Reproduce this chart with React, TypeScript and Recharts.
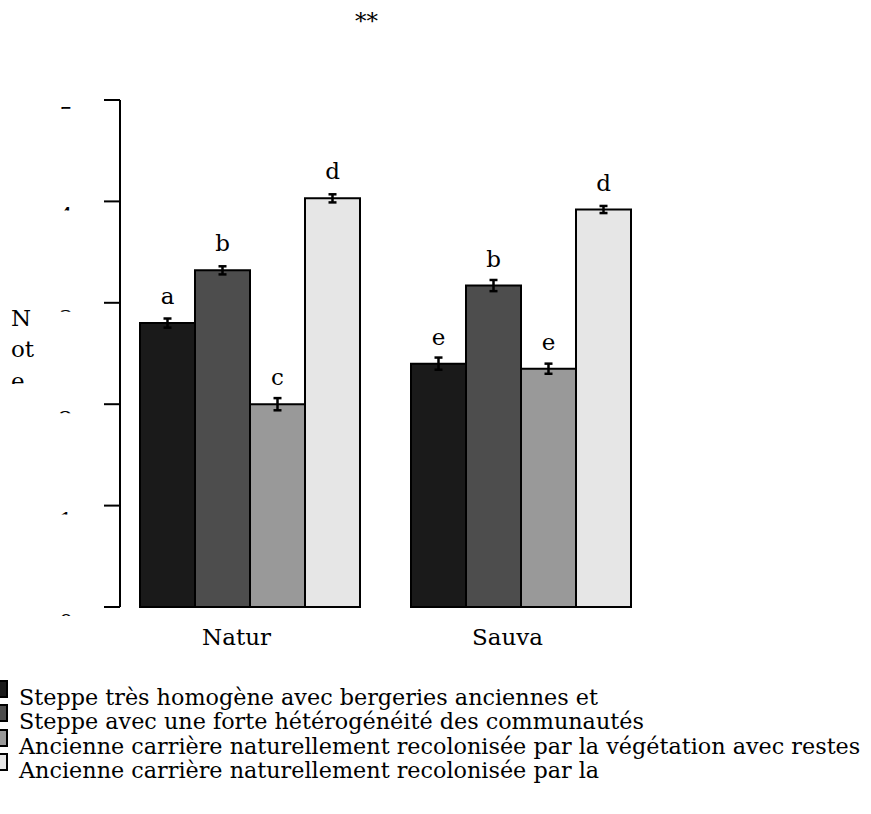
import { BarChart, Bar, XAxis, YAxis, ErrorBar, LabelList } from 'recharts';

const categories = ['Natur', 'Sauva'];

const seriesNames = [
  'Steppe très homogène avec bergeries anciennes et',
  'Steppe avec une forte hétérogénéité des communautés',
  'Ancienne carrière naturellement recolonisée par la végétation avec restes',
  'Ancienne carrière naturellement recolonisée par la',
];
const fills = ['#1a1a1a', '#4d4d4d', '#999999', '#e6e6e6'];

// mean note per site type
const steppeHomogene = [2.8, 2.4];
const steppeHeterogene = [3.32, 3.17];
const carriereRestes = [2.0, 2.35];
const carriere = [4.03, 3.92];

// standard errors
const seHomogene = [0.045, 0.06];
const seHeterogene = [0.04, 0.055];
const seRestes = [0.06, 0.05];
const seCarriere = [0.04, 0.035];

// letters of the post-hoc groups
const lettersHomogene = ['a', 'e'];
const lettersHeterogene = ['b', 'b'];
const lettersRestes = ['c', 'e'];
const lettersCarriere = ['d', 'd'];

const yTicks = [0, 1, 2, 3, 4, 5];

const data = categories.map((cat, i) => ({
  cat,
  s1: steppeHomogene[i],
  s2: steppeHeterogene[i],
  s3: carriereRestes[i],
  s4: carriere[i],
  e1: seHomogene[i],
  e2: seHeterogene[i],
  e3: seRestes[i],
  e4: seCarriere[i],
  l1: lettersHomogene[i],
  l2: lettersHeterogene[i],
  l3: lettersRestes[i],
  l4: lettersCarriere[i],
}));

const FONT = 'DejaVu Serif';

function YTick(props: any) {
  const { x, y, payload, index } = props;
  const id = `ytick-clip-${index}`;
  return (
    <g>
      <clipPath id={id}>
        <rect x={x - 50} y={y + 5} width={30} height={4} />
      </clipPath>
      <text
        x={x - 36}
        y={y + 23}
        textAnchor="middle"
        fontFamily={FONT}
        fontSize={23}
        fill="#000"
        clipPath={`url(#${id})`}
      >
        {payload.value}
      </text>
    </g>
  );
}

function XTick(props: any) {
  const { x, y, payload } = props;
  return (
    <text x={x} y={y + 38} dx={-13} textAnchor="middle" fontFamily={FONT} fontSize={23} fill="#000">
      {payload.value}
    </text>
  );
}

// y title "Note", squeezed in a narrow margin box and cut off at the bottom
function NoteLabel() {
  return (
    <g>
      <clipPath id="note-clip">
        <rect x={0} y={290} width={60} height={94} />
      </clipPath>
      <g clipPath="url(#note-clip)" fontFamily={FONT} fontSize={23} fill="#000">
        <text x={11} y={326}>N</text>
        <text x={11} y={357}>ot</text>
        <text x={11} y={389}>e</text>
      </g>
    </g>
  );
}

const makeLetter = (key: string) => (props: any) => {
  const { x, y, width, index } = props;
  return (
    <text
      x={x + width / 2}
      y={y - 19}
      textAnchor="middle"
      fontFamily={FONT}
      fontSize={23}
      fill="#000"
    >
      {(data[index] as any)[key]}
    </text>
  );
};

export default function App() {
  const keys = ['s1', 's2', 's3', 's4'];
  return (
    <div style={{ position: 'absolute', left: 0, top: 0, width: 871, height: 814, background: '#fff', overflow: 'hidden' }}>
      <BarChart
        width={871}
        height={814}
        data={data}
        margin={{ top: 100, right: 209, bottom: 177, left: 60 }}
        barCategoryGap={26}
        barGap={0}
      >
        <XAxis
          dataKey="cat"
          axisLine={false}
          tickLine={false}
          tickSize={0}
          tickMargin={0}
          height={30}
          padding={{ left: -6, right: 6 }}
          tick={<XTick />}
          interval={0}
        />
        <YAxis
          type="number"
          domain={[0, 5]}
          ticks={yTicks}
          width={60}
          tickSize={16}
          tickMargin={2}
          axisLine={{ stroke: '#000', strokeWidth: 2 }}
          tickLine={{ stroke: '#000', strokeWidth: 2 }}
          tick={<YTick />}
          label={<NoteLabel />}
        />
        {keys.map((k, i) => (
          <Bar
            key={k}
            dataKey={k}
            fill={fills[i]}
            stroke="#000"
            strokeWidth={2}
            isAnimationActive={false}
          >
            <ErrorBar dataKey={`e${i + 1}`} width={4} stroke="#000" strokeWidth={2.5} direction="y" />
            <LabelList dataKey={`l${i + 1}`} content={makeLetter(`l${i + 1}`)} />
          </Bar>
        ))}
      </BarChart>
      <div
        style={{
          position: 'absolute',
          left: 355,
          top: 10,
          width: 22,
          textAlign: 'center',
          fontFamily: FONT,
          fontSize: 23,
          lineHeight: '23px',
        }}
      >
        **
      </div>
      <div
        style={{
          position: 'absolute',
          left: 0,
          top: 685,
          width: 871,
          fontFamily: FONT,
          fontSize: 22.3,
          lineHeight: '24.3px',
          whiteSpace: 'nowrap',
        }}
      >
        {seriesNames.map((name, i) => (
          <div key={name} style={{ position: 'relative', height: 24.3, paddingLeft: 19 }}>
            <div
              style={{
                position: 'absolute',
                left: -7,
                top: -5,
                width: 11,
                height: 14,
                border: '2px solid #000',
                background: fills[i],
              }}
            />
            {name}
          </div>
        ))}
      </div>
    </div>
  );
}
